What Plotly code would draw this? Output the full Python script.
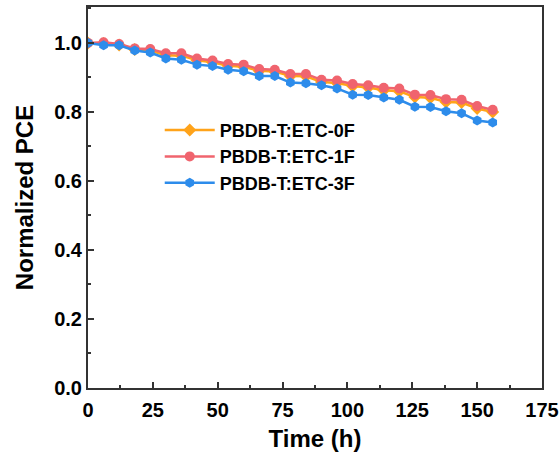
import plotly.graph_objects as go

time_h = [0, 6, 12, 18, 24, 30, 36, 42, 48, 54, 60, 66, 72, 78, 84, 90, 96, 102, 108, 114, 120, 126, 132, 138, 144, 150, 156]

pce_0f = [1.000, 0.998, 0.994, 0.981, 0.978, 0.964, 0.963, 0.950, 0.944, 0.934, 0.931, 0.919, 0.917, 0.904, 0.903, 0.887, 0.884, 0.875, 0.871, 0.863, 0.860, 0.843, 0.841, 0.829, 0.827, 0.810, 0.800]
pce_1f = [1.000, 1.002, 0.997, 0.984, 0.982, 0.970, 0.970, 0.955, 0.949, 0.939, 0.937, 0.924, 0.922, 0.910, 0.910, 0.893, 0.891, 0.881, 0.877, 0.870, 0.868, 0.850, 0.849, 0.837, 0.835, 0.817, 0.806]
pce_3f = [1.000, 0.993, 0.993, 0.978, 0.972, 0.955, 0.951, 0.937, 0.933, 0.922, 0.918, 0.904, 0.904, 0.885, 0.883, 0.877, 0.868, 0.850, 0.849, 0.842, 0.835, 0.815, 0.814, 0.802, 0.796, 0.775, 0.769]

names = ["PBDB-T:ETC-0F", "PBDB-T:ETC-1F", "PBDB-T:ETC-3F"]
colors = ["#FFA31A", "#F0646E", "#2D8CEB"]
symbols = ["diamond", "circle", "hexagon"]
series = [pce_0f, pce_1f, pce_3f]

x_ticks = [0, 25, 50, 75, 100, 125, 150, 175]
y_ticks = [0.0, 0.2, 0.4, 0.6, 0.8, 1.0]

fig = go.Figure()
for name, col, sym, ys in zip(names, colors, symbols, series):
    fig.add_trace(go.Scatter(
        x=time_h, y=ys, name=name, mode="lines+markers",
        line=dict(color=col, width=2.5),
        marker=dict(symbol=sym, size=10, color=col, line=dict(color=col, width=0)),
    ))

font_family = "Liberation Sans, Arial, sans-serif"
fig.update_layout(
    width=560, height=455,
    margin=dict(l=88, r=18, t=7, b=67, autoexpand=False),
    plot_bgcolor="white", paper_bgcolor="white",
    font=dict(family=font_family, size=15, color="black"),
    showlegend=True,
    legend=dict(
        x=0.158, y=0.725, xanchor="left", yanchor="top",
        bgcolor="rgba(0,0,0,0)", borderwidth=0,
        font=dict(family=font_family, size=18, color="black", weight="bold"),
        itemwidth=50, tracegroupgap=0,
    ),
)
fig.update_xaxes(
    range=[0, 175], tickvals=x_ticks, ticktext=[str(v) for v in x_ticks],
    showgrid=False, zeroline=False, automargin=False,
    showline=True, linecolor="#333333", linewidth=2, mirror=True,
    ticks="inside", ticklen=6, tickwidth=1.5, tickcolor="#333333",
    minor=dict(dtick=12.5, tick0=0, ticks="inside", ticklen=3, tickwidth=1.5, tickcolor="#333333"),
    tickfont=dict(family=font_family, size=20, color="black", weight="bold"),
    ticklabelstandoff=3,
    title=dict(text="Time (h)", font=dict(family=font_family, size=24, color="black", weight="bold"), standoff=10),
)
fig.update_yaxes(
    range=[0, 1.104], tickvals=y_ticks, ticktext=["%.1f" % v for v in y_ticks],
    showgrid=False, zeroline=False, automargin=False,
    showline=True, linecolor="#333333", linewidth=2, mirror=True,
    ticks="inside", ticklen=6, tickwidth=1.5, tickcolor="#333333",
    minor=dict(dtick=0.1, tick0=0, ticks="inside", ticklen=3, tickwidth=1.5, tickcolor="#333333"),
    tickfont=dict(family=font_family, size=20, color="black", weight="bold"),
    title=dict(text="Normalized PCE", font=dict(family=font_family, size=24, color="black", weight="bold"), standoff=14),
)

fig.write_html("out.html", config={"displayModeBar": False},
               post_script="document.body.style.margin='0';")
